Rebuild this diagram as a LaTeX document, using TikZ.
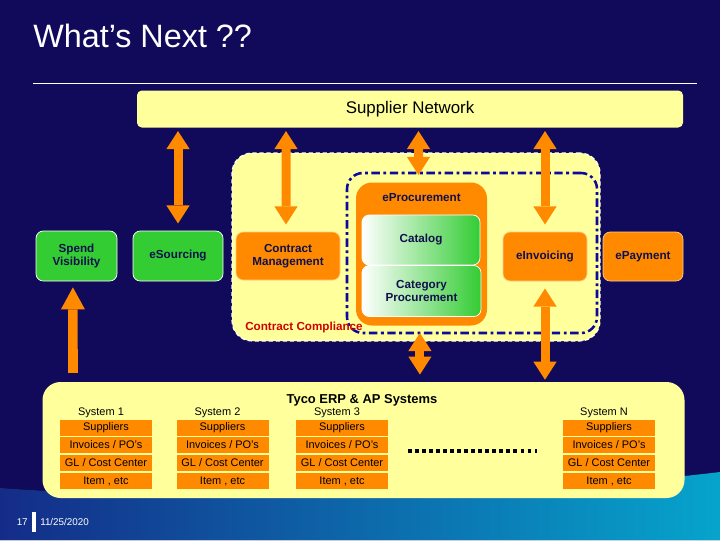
\documentclass[tikz,border=0pt]{standalone}
\usepackage{fontspec}
\setmainfont{Liberation Sans}
\usetikzlibrary{arrows.meta,positioning}

\definecolor{slidebg}{HTML}{110A5A}
\definecolor{wavel}{HTML}{142C88}
\definecolor{wavem}{HTML}{1668B4}
\definecolor{waver}{HTML}{06A4CC}
\definecolor{paleyellow}{HTML}{FFFF9C}
\definecolor{boxorange}{HTML}{FF8A00}
\definecolor{boxgreen}{HTML}{33CC33}
\definecolor{boxtext}{HTML}{10104A}
\definecolor{ddblue}{HTML}{0A0AA0}
\definecolor{ccred}{HTML}{D00000}

\tikzset{
  sz/.style 2 args={minimum width=#1*0.025cm, minimum height=#2*0.025cm},
  box/.style={rounded corners=0.18cm, draw=white, line width=0.5pt, align=center,
    text=boxtext, inner sep=0pt, font=\fontsize{8.3}{9.6}\selectfont\bfseries},
  greenbox/.style={box, fill=boxgreen},
  orangebox/.style={box, fill=boxorange, draw=white!55!boxorange},
  gradbox/.style={box, left color=white, right color=boxgreen},
  cell/.style={fill=boxorange, sz={92}{16}, inner sep=0pt, text=black,
    font=\fontsize{7.8}{9}\selectfont},
  dblarrow/.style={draw=boxorange, line width=6.4pt,
    {Triangle[width=0.58cm,length=0.45cm,line width=0pt]}-{Triangle[width=0.58cm,length=0.45cm,line width=0pt]},
    shorten <=0.18cm, shorten >=0.18cm},
  onearrow/.style={draw=boxorange, line width=6.8pt, -{Triangle[width=0.6cm,length=0.55cm,line width=0pt]},
    shorten <=0.22cm, shorten >=0.15cm}
}

\begin{document}
\begin{tikzpicture}[x=0.025cm, y=-0.025cm]
  \useasboundingbox (0,0) rectangle (720,540);
  \fill[slidebg] (0,0) rectangle (720,540);
  % wave at the foot of the slide
  \fill[left color=wavel, middle color=wavem, right color=waver]
    (0,488) .. controls (250,505) and (480,500) .. (720,472) -- (720,540) -- (0,540) -- cycle;

  \node[anchor=west, inner sep=0pt, text=white, font=\fontsize{23}{27}\selectfont] (title) at (33,36) {What’s Next ??};
  \draw[white, line width=0.6pt] (33,83) -- (697,83);

  \node[box, draw=none, fill=paleyellow, sz={546}{37}, rounded corners=0.12cm,
    font=\fontsize{12}{14}\selectfont, text=black] (supnet) at (410,109) {Supplier Network};

  % contract compliance zone
  \node[fill=paleyellow, draw=white, densely dashed, line width=0.8pt, rounded corners=0.5cm,
    sz={368}{188}] (ccarea) at (416,247) {};
  \node[draw=ddblue, line width=1.8pt, rounded corners=0.4cm, sz={250}{160},
    dash pattern=on 6pt off 2.5pt on 2pt off 2.5pt] (eprocarea) at (472,253) {};

  \node[greenbox, sz={81}{50}] (spend) at (76.5,256) {Spend\\Visibility};
  \node[greenbox, sz={90}{50}] (esrc) at (178,256) {eSourcing};
  \node[orangebox, sz={104}{48}] (contract) at (288,256) {Contract\\Management};
  \node[orangebox, sz={84}{49}] (einv) at (545,256.5) {eInvoicing};
  \node[orangebox, sz={80}{49}] (epay) at (643,256.5) {ePayment};

  \node[orangebox, draw=none, rounded corners=0.4cm, sz={131}{143}] (eproc) at (421.5,254) {};
  \node[box, draw=none, fill=none] (eproctitle) at (421.5,198) {eProcurement};
  \node[gradbox, sz={118}{50}] (catalog) at (421,240) {Catalog};
  \node[gradbox, sz={119}{51}] (catproc) at (421.5,291) {Category\\Procurement};

  \node[anchor=west, inner sep=0pt, text=ccred, font=\fontsize{8.3}{10}\selectfont\bfseries]
    (cctext) at (245,327) {Contract Compliance};

  % ERP systems
  \node[fill=paleyellow, rounded corners=0.45cm, sz={642}{116}] (erp) at (363.5,440) {};
  \node[inner sep=0pt, font=\fontsize{9.2}{11}\selectfont\bfseries] (erptitle) at (362,400) {Tyco ERP \& AP Systems};
  \foreach \x/\n in {106/1, 222.5/2, 342/3, 609/N} {
    \node[inner sep=0pt, font=\fontsize{7.8}{9}\selectfont] (sys\n) at (\x-5,412.5) {System \n};
    \node[cell] (sup\n) at (\x,427.5) {Suppliers};
    \node[cell] (inv\n) at (\x,444.5) {Invoices / PO's};
    \node[cell] (gl\n) at (\x,462.5) {GL / Cost Center};
    \node[cell] (item\n) at (\x,481) {Item , etc};
  }
  \coordinate (dotl) at (408,451);
  \coordinate (dotr) at (537,451);
  \draw[line width=2.2pt, dash pattern=on 2.8pt off 2.2pt] (dotl) -- (dotr);

  % arrows
  \draw[dblarrow, shorten <=0.08cm] (supnet.south -| esrc) -- (esrc.north);
  \draw[dblarrow, shorten <=0.08cm] (supnet.south -| contract.north) ++(-2,0) -- ([xshift=-0.05cm]contract.north);
  \draw[dblarrow, shorten <=0.08cm] (supnet.south -| eproc) ++(-3,0) -- ([xshift=-0.075cm]eproc.north);
  \draw[dblarrow, shorten <=0.08cm] (supnet.south -| einv) -- (einv.north);
  \draw[dblarrow] ([xshift=-0.04cm]eproc.south) -- ([xshift=-0.04cm]eproc.south |- erp.north);
  \draw[dblarrow, shorten >=0.05cm] (einv.south) -- (einv.south |- erp.north);
  \draw[onearrow] (spend.south |- erp.north) ++(-3.5,0) -- ([xshift=-0.09cm]spend.south);

  % footer
  \node[anchor=east, inner sep=0pt, text=white, font=\fontsize{7}{8}\selectfont] (pagenum) at (28,522) {17};
  \fill[white] (32,512) rectangle (35.5,532);
  \node[anchor=west, inner sep=0pt, text=white, font=\fontsize{7}{8}\selectfont] (date) at (40,522) {11/25/2020};
\end{tikzpicture}
\end{document}
